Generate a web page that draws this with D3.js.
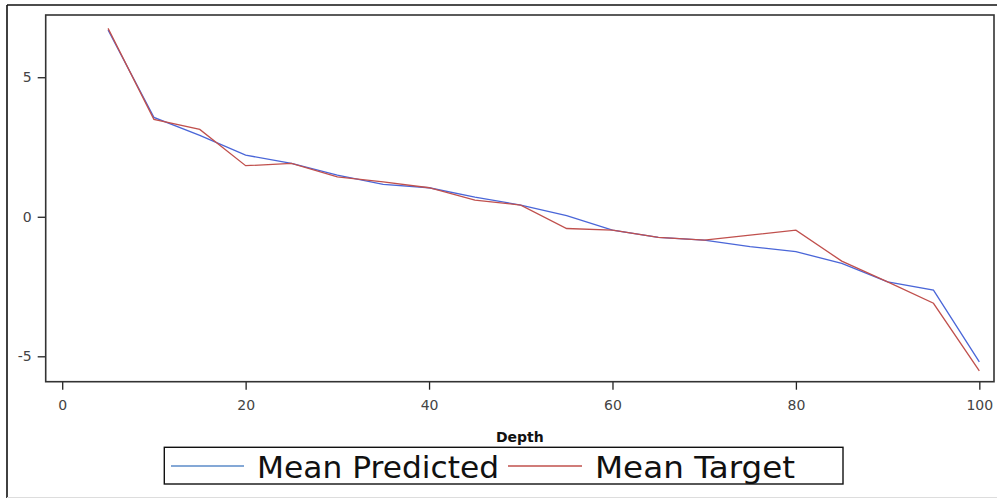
<!DOCTYPE html>
<html>
<head>
<meta charset="utf-8">
<script src="https://cdn.jsdelivr.net/npm/d3@7"></script>
<style>
  body { margin: 0; background: #fff; }
  svg { display: block; }
  .tick text { font-family: "DejaVu Sans", sans-serif; font-size: 14px; fill: #444; }
  .tick line { stroke: #222; stroke-width: 1.3; }
</style>
</head>
<body>
<svg id="chart" width="997" height="499"></svg>
<script>
const depth = [5, 10, 15, 20, 25, 30, 35, 40, 45, 50, 55, 60, 65, 70, 75, 80, 85, 90, 95, 100];
const meanPredicted = [6.69, 3.56, 2.92, 2.21, 1.91, 1.49, 1.16, 1.04, 0.70, 0.42, 0.04, -0.48, -0.74, -0.84, -1.07, -1.25, -1.67, -2.33, -2.63, -5.20];
const meanTarget = [6.75, 3.49, 3.13, 1.83, 1.91, 1.43, 1.25, 1.04, 0.60, 0.42, -0.42, -0.48, -0.74, -0.84, -0.66, -0.48, -1.59, -2.33, -3.10, -5.52];
const xTicks = [0, 20, 40, 60, 80, 100];
const yTicks = [-5, 0, 5];
const seriesNames = ['Mean Predicted', 'Mean Target'];
const seriesColors = ['#4a66d8', '#c0504d'];
const legendColors = ['#5b8bc9', '#c0504d'];

const settings = {
    xMax: 997,
    yMax: 499,
    margins: {left: 45.7, right: 3, top: 15, bottom: 117.3}
};

function getChartWidth(p) {
    return p.xMax - (p.margins.left + p.margins.right);
}

function getChartHeight(p) {
    return p.yMax - (p.margins.top + p.margins.bottom);
}

const svg = d3.select('#chart');

// outer frame
svg.append('line').attr('x1', 7).attr('y1', 5).attr('x2', 997).attr('y2', 5)
    .attr('stroke', '#111').attr('stroke-width', 1.6);
svg.append('line').attr('x1', 7).attr('y1', 5).attr('x2', 7).attr('y2', 498)
    .attr('stroke', '#111').attr('stroke-width', 1.6);
svg.append('line').attr('x1', 7).attr('y1', 497.5).attr('x2', 997).attr('y2', 497.5)
    .attr('stroke', '#ddd').attr('stroke-width', 1);

const w = getChartWidth(settings);
const h = getChartHeight(settings);

const xScale = d3.scaleLinear().domain([-1.8, 101.6]).range([0, w]);
const yScale = d3.scaleLinear().domain([-5.91, 7.23]).range([h, 0]);
const fmt = (d) => String(d);

const chart = svg.append('g')
    .attr('transform', `translate(${settings.margins.left} ${settings.margins.top})`);

// axes
const xAxis = chart.append('g').attr('transform', `translate(0 ${h})`)
    .call(d3.axisBottom(xScale).tickValues(xTicks).tickFormat(fmt)
        .tickSizeInner(8).tickSizeOuter(0).tickPadding(10));
const yAxis = chart.append('g')
    .call(d3.axisLeft(yScale).tickValues(yTicks).tickFormat(fmt)
        .tickSizeInner(8).tickSizeOuter(0).tickPadding(6));
xAxis.select('.domain').remove();
yAxis.select('.domain').remove();

// plot frame
chart.append('rect').attr('x', 0).attr('y', 0).attr('width', w).attr('height', h)
    .attr('fill', 'none').attr('stroke', '#333').attr('stroke-width', 1.6);

// lines
const series = [meanPredicted, meanTarget];
series.forEach((vals, i) => {
    const line = d3.line()
        .x((d, j) => xScale(depth[j]))
        .y((d) => yScale(d));
    chart.append('path').attr('d', line(vals))
        .attr('fill', 'none')
        .attr('stroke', seriesColors[i])
        .attr('stroke-width', 1.3);
});

// axis label
svg.append('text').text('Depth')
    .attr('x', settings.margins.left + w / 2).attr('y', 441.5)
    .attr('text-anchor', 'middle')
    .style('font-family', '"DejaVu Sans", sans-serif')
    .style('font-size', '14px')
    .style('font-weight', 'bold')
    .attr('fill', '#111');

// legend
const legend = svg.append('g');
legend.append('rect').attr('x', 164.3).attr('y', 447.3).attr('width', 678.7).attr('height', 36.7)
    .attr('fill', 'none').attr('stroke', '#111').attr('stroke-width', 1.4);
const legendItems = [
    {lineX: 171, lineEnd: 244, textX: 257, textLen: 242},
    {lineX: 508, lineEnd: 582, textX: 595, textLen: 200}
];
legendItems.forEach((item, i) => {
    legend.append('line').attr('x1', item.lineX).attr('x2', item.lineEnd)
        .attr('y1', 466).attr('y2', 466)
        .attr('stroke', legendColors[i]).attr('stroke-width', 1.4);
    legend.append('text').text(seriesNames[i])
        .attr('x', item.textX).attr('y', 478)
        .attr('textLength', item.textLen)
        .attr('lengthAdjust', 'spacingAndGlyphs')
        .style('font-family', '"DejaVu Sans", sans-serif')
        .style('font-size', '31px')
        .attr('fill', '#111');
});
</script>
</body>
</html>
